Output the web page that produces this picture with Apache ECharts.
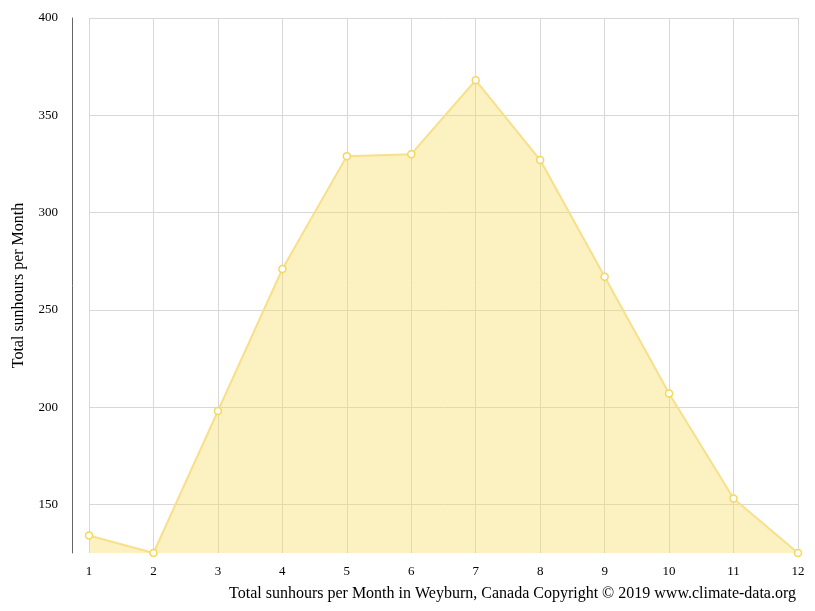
<!DOCTYPE html>
<html>
<head>
    <meta charset="UTF-8">
    <title>Sunhours Weyburn</title>
    <script src="https://cdn.jsdelivr.net/npm/echarts@6/dist/echarts.min.js"></script>
</head>
<body style="margin:0">
<div id="main" style="width: 815px;height:611px;"></div>
<script type="text/javascript">
    var months = ['1', '2', '3', '4', '5', '6', '7', '8', '9', '10', '11', '12'];
    var sunhours = [134, 125, 198, 271, 329, 330, 368, 327, 267, 207, 153, 125];

    var font = 'Liberation Serif';
    echarts.init(document.getElementById('main')).setOption({
        animation: false,
        textStyle: {fontFamily: font},
        title: {
            text: 'Total sunhours per Month in Weyburn, Canada Copyright © 2019 www.climate-data.org',
            right: 14,
            bottom: 4,
            textStyle: {fontFamily: font, fontWeight: 'normal', fontSize: 16, color: '#000'}
        },
        grid: {left: 89, right: 17, top: 18, bottom: 58},
        xAxis: {
            type: 'category',
            data: months,
            boundaryGap: false,
            axisLine: {show: false},
            axisTick: {show: false},
            axisLabel: {color: '#000', fontSize: 13, fontFamily: font, margin: 12},
            splitLine: {show: true, lineStyle: {color: '#d8d8d8'}}
        },
        yAxis: {
            type: 'value',
            min: 125,
            max: 400,
            interval: 25,
            offset: 17,
            name: 'Total sunhours per Month',
            nameLocation: 'middle',
            nameGap: 45,
            nameTextStyle: {fontFamily: font, fontSize: 16, color: '#000'},
            axisLine: {show: true, lineStyle: {color: '#666'}},
            axisTick: {show: false},
            axisLabel: {
                color: '#000', fontSize: 13, fontFamily: font, margin: 14,
                formatter: function (v) { return v % 50 === 0 ? v : ''; }
            },
            splitLine: {show: true, lineStyle: {color: ['transparent', '#d8d8d8']}}
        },
        series: [{
            type: 'line',
            data: sunhours,
            symbol: 'circle',
            symbolSize: 7,
            itemStyle: {color: '#fff', borderColor: '#f5d75a', borderWidth: 1.5},
            lineStyle: {color: '#f8e08a', width: 2},
            areaStyle: {color: 'rgba(246, 218, 90, 0.55)'}
        }]
    });
</script>
</body>
</html>
